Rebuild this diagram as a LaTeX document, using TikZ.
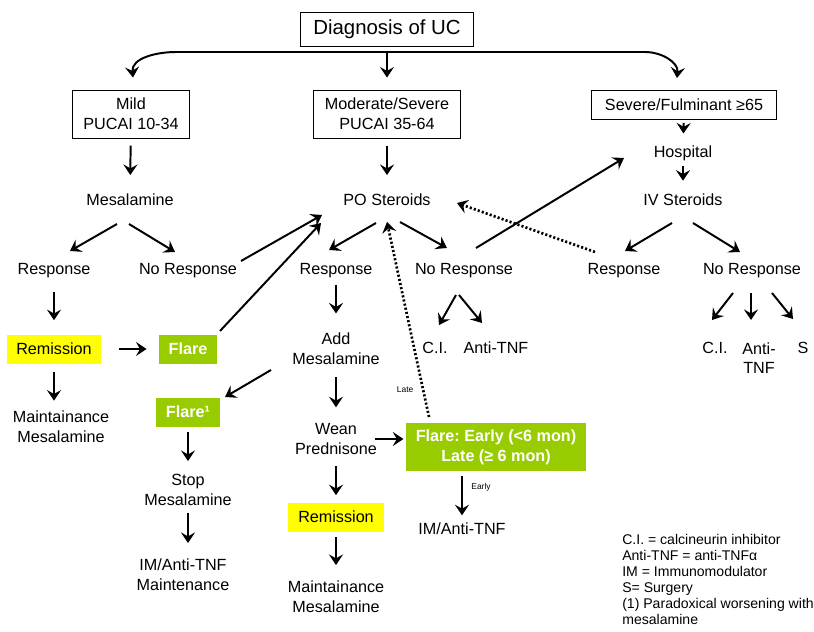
\documentclass[tikz,border=0pt]{standalone}
\usepackage{fontspec}
\setmainfont{Liberation Sans}
\usetikzlibrary{arrows.meta}
\definecolor{remyellow}{HTML}{FFFF00}
\definecolor{flaregreen}{HTML}{99CC00}
\frenchspacing

\begin{document}
\begin{tikzpicture}[x=0.025cm, y=-0.025cm,
  txt/.style={font=\fontsize{11.5}{14}\selectfont, align=center},
  stagebox/.style={txt, draw, line width=0.7pt},
  ybox/.style={txt, fill=remyellow, minimum height=0.725cm},
  gbox/.style={txt, fill=flaregreen, text=white, font=\fontsize{11.5}{14}\selectfont\bfseries, minimum height=0.725cm},
  arr/.style={-{Stealth[length=7.5pt,width=10pt,inset=2.8pt]}, line width=1.4pt},
  dotarr/.style={arr, line width=1.9pt, dash pattern=on 1.5pt off 1.5pt},
  tinylbl/.style={font=\fontsize{6}{7}\selectfont, inner sep=1pt}]
  \useasboundingbox (0,0) rectangle (814,631);

  % Diagnosis and severity
  \node[stagebox, font=\fontsize{14.5}{17}\selectfont, minimum width=4.325cm, minimum height=0.85cm] (diag) at (387,29) {Diagnosis of UC};
  \node[stagebox, minimum width=2.925cm, minimum height=1.2cm] (mild) at (131,114) {Mild\\PUCAI 10-34};
  \node[stagebox, minimum width=3.675cm, minimum height=1.2cm] (mod) at (387,114) {Moderate/Severe\\PUCAI 35-64};
  \node[stagebox, minimum width=4.625cm, minimum height=0.725cm] (sev) at (684,105) {Severe/Fulminant ≥65};
  \coordinate (split) at (387,52);

  % Mild
  \node[txt] (mes) at (130,200) {Mesalamine};
  \node[txt] (resp1) at (54,271) {Response};
  \node[txt] (nresp1) at (188,271) {No Response};
  \node[ybox, minimum width=2.35cm] (rem1) at (54,349) {Remission};
  \node[gbox, minimum width=1.425cm] (flare1) at (188,349) {Flare};
  \node[txt] (maint1) at (61,427) {Maintainance\\Mesalamine};

  % Moderate/Severe
  \node[txt] (pos) at (387,200) {PO Steroids};
  \node[txt] (resp2) at (336,271) {Response};
  \node[txt] (nresp2) at (464,271) {No Response};
  \node[txt] (ci2) at (435,348) {C.I.};
  \node[txt] (atnf2) at (496,348) {Anti-TNF};
  \node[txt] (addm) at (336,349) {Add\\Mesalamine};
  \node[gbox, minimum width=1.575cm] (flaresup) at (188,412) {Flare¹};
  \node[txt] (stopm) at (188,490) {Stop\\Mesalamine};
  \node[txt] (imm) at (183,575) {IM/Anti-TNF\\Maintenance};
  \node[txt] (wean) at (336,439) {Wean\\Prednisone};
  \node[gbox, minimum width=4.475cm, minimum height=1.2cm] (flarebig) at (496,447) {Flare: Early (<6 mon)\\Late (≥ 6 mon)};
  \node[txt] (imtnf) at (462,529) {IM/Anti-TNF};
  \node[ybox, minimum width=2.375cm] (rem2) at (336,517) {Remission};
  \node[txt] (maint2) at (336,597) {Maintainance\\Mesalamine};

  % Severe/Fulminant
  \node[txt] (hosp) at (683,153) {Hospital};
  \node[txt] (ivs) at (683,200) {IV Steroids};
  \node[txt] (resp3) at (624,271) {Response};
  \node[txt] (nresp3) at (752,271) {No Response};
  \node[txt] (ci3) at (715,348) {C.I.};
  \node[txt] (atnf3) at (759,358) {Anti-\\TNF};
  \node[txt] (s3) at (803,348) {S};

  % Legend
  \node[font=\fontsize{10}{11.4}\selectfont, align=left, anchor=north west, inner sep=0pt] (legend) at (622,534)
    {C.I. = calcineurin inhibitor\\Anti-TNF = anti-TNFα\\IM = Immunomodulator\\S= Surgery\\(1) Paradoxical worsening with\\mesalamine};

  % Split arrows
  \draw[arr] (split) -- ([shift={(45,0)}]mild.north |- split) to[out=180,in=95] ([shift={(2,-12)}]mild.north);
  \draw[arr] (split) -- ([shift={(-39,0)}]sev.north |- split) to[out=0,in=85] ([shift={(-7,-12)}]sev.north);
  \draw[arr, shorten >=8.5pt] (split) -- (mod);

  % Straight down
  \draw[arr, shorten <=5pt, shorten >=10pt] (mild) -- (mes);
  \draw[arr, shorten <=5pt, shorten >=10pt] (mod) -- (pos);
  \draw[arr, shorten <=2pt, shorten >=5pt] (sev) -- (hosp);
  \draw[arr, shorten >=6pt] (hosp) -- (ivs);
  \draw[arr, shorten <=6.5pt, shorten >=10pt] (resp1) -- (rem1);
  \draw[arr, shorten <=6pt, shorten >=4pt] (rem1.south) -- (rem1.south |- maint1.north);
  \draw[arr, shorten <=1pt, shorten >=10.5pt] (resp2) -- (addm);
  \draw[arr, shorten <=5.5pt, shorten >=8pt] (addm) -- (wean);
  \draw[arr, shorten <=5pt, shorten >=5pt] (wean) -- (rem2);
  \draw[arr, shorten <=4pt, shorten >=8pt] (rem2) -- (maint2);
  \draw[arr, shorten <=4pt, shorten >=6pt] (flaresup) -- (stopm);
  \draw[arr, shorten <=1.5pt, shorten >=8pt] (stopm.south) -- (stopm.south |- imm.north);
  \draw[arr, shorten <=3pt, shorten >=2pt] (imtnf.north |- flarebig.south) -- node[tinylbl, pos=0.34, right=5pt] {Early} (imtnf.north);

  % Sideways
  \draw[arr, shorten <=12.5pt, shorten >=9pt] (rem1) -- (flare1);
  \draw[arr, shorten >=2pt] ([xshift=-5pt]wean.east) -- (wean.east -| flarebig.west);

  % Branches
  \draw[arr] ([shift={(-13,24)}]mes.center) -- ([shift={(16,-20)}]resp1.center);
  \draw[arr] ([shift={(-1,24)}]mes.center) -- ([shift={(-13,-19)}]nresp1.center);
  \draw[arr] ([shift={(53,-10)}]nresp1.center) -- ([shift={(-65,15)}]pos.center);
  \draw[arr] ([shift={(32,-18)}]flare1.center) -- ([shift={(-66,23)}]pos.center);
  \draw[arr] ([shift={(-11,23)}]pos.center) -- ([shift={(-7,-21)}]resp2.center);
  \draw[arr] ([shift={(13,22)}]pos.center) -- ([shift={(-17,-23)}]nresp2.center);
  \draw[arr] ([shift={(12,-23)}]nresp2.center) -- ([shift={(-59,5)}]hosp.center);
  \draw[arr] ([shift={(-11,23)}]ivs.center) -- ([shift={(1,-20)}]resp3.center);
  \draw[arr] ([shift={(10,23)}]ivs.center) -- ([shift={(-12,-19)}]nresp3.center);
  \draw[arr] ([shift={(-8,24)}]nresp2.center) -- ([shift={(4,-23)}]ci2.center);
  \draw[arr] ([shift={(-5,24)}]nresp2.center) -- ([shift={(-14,-25)}]atnf2.center);
  \draw[arr] ([shift={(-19,22)}]nresp3.center) -- ([shift={(-3,-28)}]ci3.center);
  \draw[arr] ([shift={(-1,22)}]nresp3.center) -- ([shift={(-8,-38)}]atnf3.center);
  \draw[arr] ([shift={(20,22)}]nresp3.center) -- ([shift={(-10,-29)}]s3.center);
  \draw[arr] ([shift={(-65,21)}]addm.center) -- ([shift={(37,-15)}]flaresup.center);

  % Dotted returns
  \draw[dotarr] ([shift={(-29,-19)}]resp3.center) -- ([shift={(70,3)}]pos.center);
  \draw[dotarr] ([shift={(-67,-30)}]flarebig.center) -- node[tinylbl, pos=0.14, left=5pt] {Late} ([shift={(0,22)}]pos.center);
\end{tikzpicture}
\end{document}
